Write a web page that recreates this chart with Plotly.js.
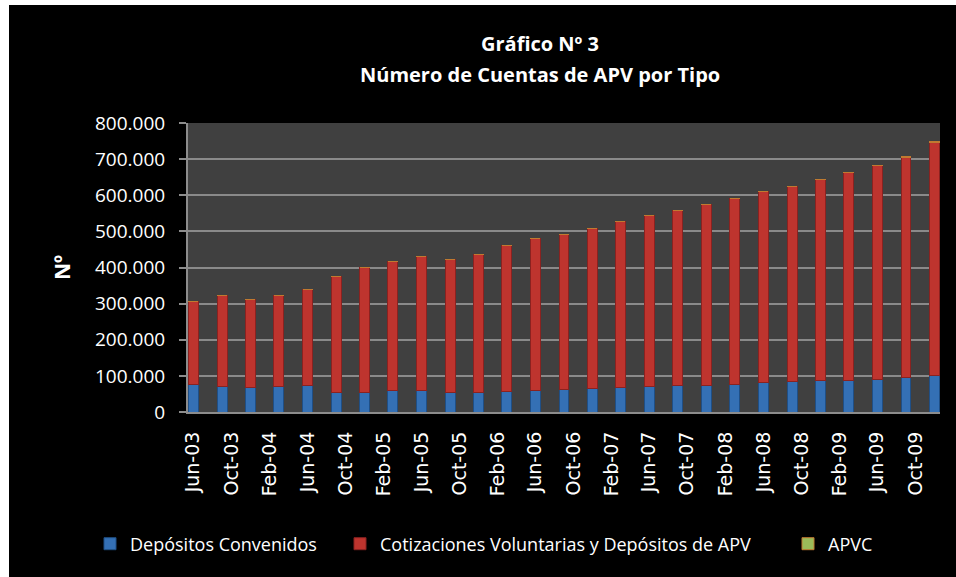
<!DOCTYPE html>
<html>
<head>
<meta charset="utf-8">
<script src="https://cdn.plot.ly/plotly-3.0.1.min.js"></script>
<style>
html,body{margin:0;padding:0;background:#ffffff;width:956px;height:577px;overflow:hidden;}
#chart{position:absolute;left:9px;top:5px;width:947px;height:572px;background:#000;}
</style>
</head>
<body>
<div id="chart"></div>
<script>
// Quarterly periods
const periods = ["2003-06-01","2003-09-01","2003-12-01","2004-03-01","2004-06-01","2004-09-01","2004-12-01",
  "2005-03-01","2005-06-01","2005-09-01","2005-12-01","2006-03-01","2006-06-01","2006-09-01","2006-12-01",
  "2007-03-01","2007-06-01","2007-09-01","2007-12-01","2008-03-01","2008-06-01","2008-09-01","2008-12-01",
  "2009-03-01","2009-06-01","2009-09-01","2009-12-01"];
// Depósitos Convenidos
const depositosConvenidos = [77000,71500,68700,71500,74000,55000,55000,60000,60000,55000,55000,57600,60000,
  63000,66000,68700,71500,74000,74000,77000,82600,85000,88000,88000,91000,96600,102000];
// Cotizaciones Voluntarias y Depósitos de APV
const cotizacionesVoluntarias = [229000,250000,244000,250000,264000,321000,346000,356000,370000,366000,381000,402000,420000,
  427000,442000,458000,472000,484000,500000,514000,528000,539000,556000,574000,590000,609000,645000];
// APVC
const apvc = [0,0,0,0,0,0,0,0,0,0,0,0,0,0,0,0,0,0,0,0,0,0,200,500,1000,2000,3000];

const seriesNames = ["Depósitos Convenidos","Cotizaciones Voluntarias y Depósitos de APV","APVC"];
const titleLines = ["Gráfico Nº 3","Número de Cuentas de APV por Tipo"];
const yAxisTitle = "Nº";
const yTickVals = [0,100000,200000,300000,400000,500000,600000,700000,800000];

const barWidth = 32*86400000;
const legFont = {family:"Open Sans", size:18, color:"#ffffff"};

const traces = [
  {type:"bar", x:periods, y:depositosConvenidos, name:seriesNames[0], width:barWidth,
   marker:{color:"#3470B5", line:{color:"#1F4F86", width:1}}, legend:"legend"},
  {type:"bar", x:periods, y:cotizacionesVoluntarias, name:seriesNames[1], width:barWidth,
   marker:{color:"#BE342E", line:{color:"#8A2220", width:1}}, legend:"legend2"},
  {type:"bar", x:periods, y:apvc, name:seriesNames[2], width:barWidth,
   marker:{color:"#9BBB59", line:{color:"#C07A30", width:1}}, legend:"legend3"}
];

const legBase = {orientation:"h", xref:"container", yref:"container", yanchor:"middle", xanchor:"left",
  bgcolor:"rgba(0,0,0,0)", font:legFont};
const legY = 1-(544-5)/572;
const titleFont = {family:"Open Sans", size:20, color:"#ffffff"};

const layout = {
  width:947, height:572,
  paper_bgcolor:"#000000", plot_bgcolor:"#404040",
  separators:",.",
  barmode:"stack",
  margin:{l:179, r:16, t:118, b:165},
  annotations:[
    {text:"<b>"+titleLines[0]+"</b>", xref:"paper", yref:"paper", x:0.468, y:(407-38)/289,
     xanchor:"center", yanchor:"middle", showarrow:false, font:titleFont},
    {text:"<b>"+titleLines[1]+"</b>", xref:"paper", yref:"paper", x:0.468, y:(407-70)/289,
     xanchor:"center", yanchor:"middle", showarrow:false, font:titleFont},
    {text:"<b>"+yAxisTitle+"</b>", xref:"paper", yref:"paper", x:(53-179)/752, y:(407-263)/289,
     xanchor:"center", yanchor:"middle", textangle:-90, showarrow:false,
     font:{family:"Open Sans", size:21, color:"#ffffff"}}
  ],
  xaxis:{type:"date", range:["2003-05-15","2009-12-19"], tick0:"2003-06-01", dtick:"M4",
    tickformat:"%b-%y", tickangle:-90, showgrid:false, showline:true, linecolor:"#8c8c8c", linewidth:2,
    ticks:"", ticklabelstandoff:10, tickfont:{family:"DejaVu Sans", size:19, color:"#ffffff"}, fixedrange:true},
  yaxis:{range:[0,800000], tickvals:yTickVals, tickformat:",.0f", showgrid:true, gridcolor:"#8a8a8a", gridwidth:2,
    showline:true, linecolor:"#8c8c8c", linewidth:2, ticks:"outside", ticklen:7, tickcolor:"#8c8c8c", tickwidth:2,
    ticklabelstandoff:10, zeroline:false,
    tickfont:{family:"Open Sans", size:19, color:"#ffffff"}},
  showlegend:true,
  legend:Object.assign({}, legBase, {x:(104-9-14)/947, y:legY}),
  legend2:Object.assign({}, legBase, {x:(354-9-14)/947, y:legY}),
  legend3:Object.assign({}, legBase, {x:(802-9-14)/947, y:legY})
};

Plotly.newPlot("chart", traces, layout, {displayModeBar:false, staticPlot:true});
</script>
</body>
</html>
